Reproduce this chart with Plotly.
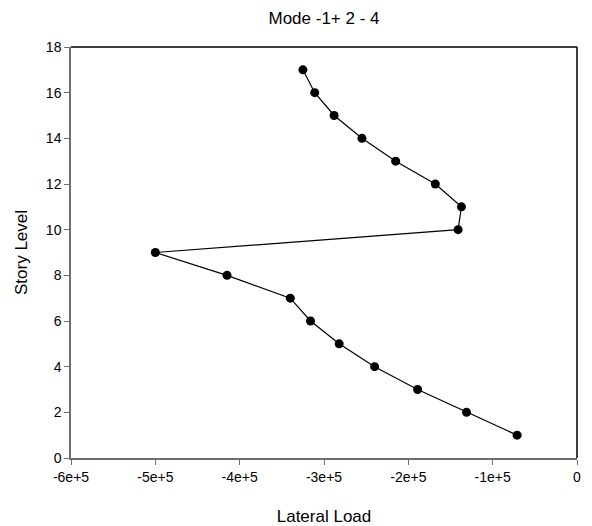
import plotly.graph_objects as go

story_levels = [1, 2, 3, 4, 5, 6, 7, 8, 9, 10, 11, 12, 13, 14, 15, 16, 17]
lateral_load = [-0.71e5, -1.31e5, -1.89e5, -2.40e5, -2.82e5, -3.16e5, -3.40e5, -4.15e5,
                -5.00e5, -1.41e5, -1.37e5, -1.68e5, -2.15e5, -2.55e5, -2.88e5, -3.11e5, -3.25e5]

x_tick_vals = [-6e5, -5e5, -4e5, -3e5, -2e5, -1e5, 0]
x_tick_text = ["-6e+5", "-5e+5", "-4e+5", "-3e+5", "-2e+5", "-1e+5", "0"]
y_tick_vals = [0, 2, 4, 6, 8, 10, 12, 14, 16, 18]

FONT = "Liberation Sans, Arial, sans-serif"
AXIS_GREY = "#6e6e6e"

fig = go.Figure()
fig.add_trace(go.Scatter(
    x=lateral_load, y=story_levels, mode="lines+markers",
    line=dict(color="black", width=1.2),
    marker=dict(color="black", size=9),
    showlegend=False, hoverinfo="skip",
))

fig.update_layout(
    width=592, height=526,
    margin=dict(l=71, r=15, t=47, b=68),
    paper_bgcolor="white", plot_bgcolor="white",
    font=dict(family=FONT, color="black", size=14),
    title=dict(text="Mode -1+ 2 - 4", x=(71 + 577) / 2 / 592, xanchor="center",
               y=1 - 18 / 526, yanchor="middle", font=dict(size=17, family=FONT, color="black")),
    xaxis=dict(
        range=[-6e5, 0], tickvals=x_tick_vals, ticktext=x_tick_text, automargin=False,
        showgrid=False, zeroline=False, showline=True, linecolor=AXIS_GREY, linewidth=1.5,
        ticks="outside", ticklen=5, tickcolor=AXIS_GREY, tickwidth=1,
        tickfont=dict(size=14, family=FONT, color="black"),
        title=dict(text="Lateral Load", font=dict(size=17, family=FONT, color="black"), standoff=34),
    ),
    yaxis=dict(
        range=[0, 18], tickvals=y_tick_vals, automargin=False,
        showgrid=False, zeroline=False, showline=True, linecolor=AXIS_GREY, linewidth=1.5,
        ticks="outside", ticklen=5, tickcolor=AXIS_GREY, tickwidth=1,
        tickfont=dict(size=14, family=FONT, color="black"),
        title=dict(text="Story Level", font=dict(size=17, family=FONT, color="black"), standoff=14),
    ),
    shapes=[
        dict(type="line", xref="paper", yref="paper", x0=0, x1=1, y0=1, y1=1,
             line=dict(color="black", width=1.5)),
        dict(type="line", xref="paper", yref="paper", x0=1, x1=1, y0=0, y1=1,
             line=dict(color="black", width=1.5)),
    ],
)

fig.write_html("out.html")
